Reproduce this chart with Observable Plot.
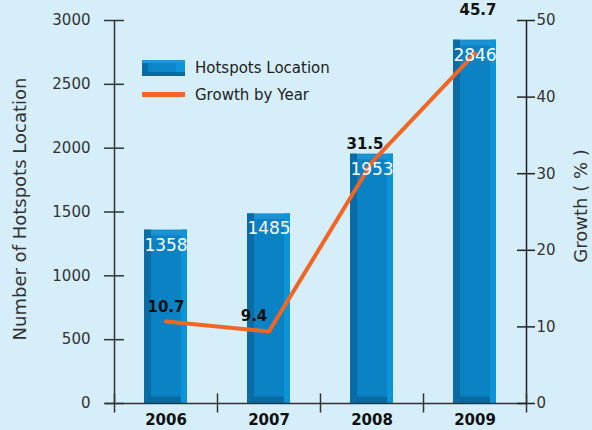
<!DOCTYPE html>
<html>
<head>
<meta charset="utf-8">
<script src="https://cdn.jsdelivr.net/npm/d3@7"></script>
<script src="https://cdn.jsdelivr.net/npm/@observablehq/plot@0.6"></script>
<style>
  html, body { margin: 0; padding: 0; background: #d5eefa; }
  #wrap { position: relative; width: 592px; height: 430px; font-family: "DejaVu Sans", sans-serif; }
  .legend { position: absolute; left: 142px; top: 58px; font-size: 15px; color: #222; }
  .legend .row { display: flex; align-items: center; height: 19px; margin-bottom: 8px; }
  .legend .swatch-bar { width: 43px; height: 16px; margin-right: 10px; box-sizing: border-box;
     background: linear-gradient(to right, #0a6ca5 0 15%, #0b86c8 15% 80%, #0c96da 80% 100%);
     border-top: 3px solid #1e98d6; border-bottom: 4px solid #066aa3; }
  .legend .swatch-line { width: 43px; height: 5px; background: #f26522; margin-right: 10px; }
</style>
</head>
<body>
<div id="wrap"></div>
<script>
const years = ["2006", "2007", "2008", "2009"];
const hotspots = [1358, 1485, 1953, 2846];
const growth = [10.7, 9.4, 31.5, 45.7];
const leftTicks = [0, 500, 1000, 1500, 2000, 2500, 3000];
const rightTicks = [0, 10, 20, 30, 40, 50];
const growthToCount = 3000 / 50;

const data = years.map((year, i) => ({
  year, hotspots: hotspots[i], growth: growth[i], g: growth[i] * growthToCount, i
}));
const bounds = d3.range(years.length + 1).map(k => k - 0.5);

const ink = "#333";
const barInset = 30;
const stepPx = 103;
const font = "DejaVu Sans";
const lo = d => d.i - 0.5, hi = d => d.i + 0.5;

const plot = Plot.plot({
  width: 592,
  height: 430,
  marginLeft: 114,
  marginRight: 66,
  marginTop: 20,
  marginBottom: 27,
  style: { background: "#d5eefa", fontFamily: font, overflow: "visible" },
  x: { type: "linear", domain: [-0.5, years.length - 0.5], axis: null },
  y: { domain: [0, 3000], axis: null },
  marks: [
    // bars (beveled look)
    Plot.rectY(data, { x1: lo, x2: hi, y1: 0, y2: "hotspots", fill: "#0b82c4", insetLeft: barInset, insetRight: barInset }),
    Plot.ruleY(data, { x1: lo, x2: hi, y: "hotspots", stroke: "#1c92d2", strokeWidth: 5, dy: 2.5, insetLeft: barInset, insetRight: barInset }),
    Plot.ruleY(data, { x1: lo, x2: hi, y: () => 0, stroke: "#066aa3", strokeWidth: 7, dy: -3.5, insetLeft: barInset, insetRight: barInset }),
    Plot.rectY(data, { x1: lo, x2: hi, y1: 0, y2: "hotspots", fill: "#0a6ca5", insetLeft: barInset, insetRight: stepPx - barInset - 7 }),
    Plot.rectY(data, { x1: lo, x2: hi, y1: 0, y2: "hotspots", fill: "#0c94d8", insetLeft: stepPx - barInset - 6, insetRight: barInset }),
    // axis lines
    Plot.ruleX([-0.5], { x: d => d, y1: 0, y2: 3000, stroke: ink, strokeWidth: 1.5 }),
    Plot.ruleX([years.length - 0.5], { x: d => d, y1: 0, y2: 3000, stroke: "#222", strokeWidth: 1.5 }),
    Plot.ruleY([0], { y: d => d, stroke: ink, strokeWidth: 1.5, insetLeft: -9 }),
    Plot.ruleX(bounds, { x: d => d, y1: -75, y2: 75, stroke: ink, strokeWidth: 1.5 }),
    // left axis
    Plot.ruleY(leftTicks, { y: d => d, x1: () => -0.5, x2: () => -0.5, insetLeft: -10, insetRight: -10, stroke: ink, strokeWidth: 1.5 }),
    Plot.text(leftTicks, { y: d => d, x: () => -0.5, text: d => String(d), dx: -24, textAnchor: "end", fontSize: 15, fill: ink }),
    // right axis
    Plot.ruleY(rightTicks, { y: d => d * growthToCount, x1: () => years.length - 0.5, x2: () => years.length - 0.5, insetLeft: -9, insetRight: -9, stroke: "#222", strokeWidth: 1.5 }),
    Plot.text(rightTicks, { y: d => d * growthToCount, x: () => years.length - 0.5, text: d => String(d), dx: 10, textAnchor: "start", fontSize: 15, fill: ink }),
    // x axis labels
    Plot.text(data, { x: "i", y: () => 0, text: "year", dy: 17, fontSize: 15, fontWeight: "bold", fill: "#111" }),
    // axis titles
    Plot.text(["Number of Hotspots Location"], { frameAnchor: "left", textAnchor: "middle", dx: -94, dy: -3, rotate: -90, fontSize: 18, fill: ink }),
    Plot.text(["Growth ( % )"], { frameAnchor: "right", textAnchor: "middle", dx: 55, dy: -6, rotate: -90, fontSize: 18, fill: ink }),
    // growth line
    Plot.line(data, { x: "i", y: "g", stroke: "#f26522", strokeWidth: 4 }),
    // bar value labels
    Plot.text(data, { x: "i", y: "hotspots", text: d => String(d.hotspots), fill: "white", fontSize: 17, dy: 15 }),
    // growth labels
    Plot.text(data.filter(d => d.i === 0), { x: "i", y: "g", text: d => d.growth.toFixed(1), fontWeight: "bold", fontSize: 15, fill: "#111", dy: -14 }),
    Plot.text(data.filter(d => d.i === 1), { x: "i", y: "g", text: d => d.growth.toFixed(1), fontWeight: "bold", fontSize: 15, fill: "#111", dx: -15, dy: -15 }),
    Plot.text(data.filter(d => d.i === 2), { x: "i", y: "g", text: d => d.growth.toFixed(1), fontWeight: "bold", fontSize: 15, fill: "#111", dx: -7, dy: -18 }),
    Plot.text(data.filter(d => d.i === 3), { x: "i", y: "g", text: d => d.growth.toFixed(1), fontWeight: "bold", fontSize: 15, fill: "#111", dx: 3, dy: -43 })
  ]
});

const wrap = document.getElementById("wrap");
wrap.appendChild(plot);
const legend = document.createElement("div");
legend.className = "legend";
legend.innerHTML = `
  <div class="row"><div class="swatch-bar"></div><span>Hotspots Location</span></div>
  <div class="row"><div class="swatch-line"></div><span>Growth by Year</span></div>`;
wrap.appendChild(legend);
</script>
</body>
</html>
